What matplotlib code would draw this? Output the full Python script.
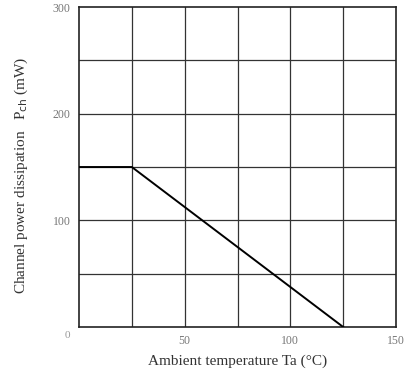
import numpy as np
import matplotlib
matplotlib.use('Agg')
import matplotlib.pyplot as plt

# derating curve: channel power dissipation vs ambient temperature
ta = [0, 25, 125]
pch = [150, 150, 0]

x_ticks = [0, 50, 100, 150]
x_labels = ['0', '50', '100', '150']
y_ticks = [100, 200, 300]
y_labels = ['100', '200', '300']

plt.rcParams['font.family'] = ['Liberation Serif', 'DejaVu Serif']

fig = plt.figure(figsize=(4.06, 3.72), dpi=100)
ax = fig.add_axes([0.1946, 0.121, 0.7808, 0.860])

ax.set_xlim(0, 150)
ax.set_ylim(0, 300)

# grid every 25 degC / 50 mW
for gx in np.arange(25, 150, 25):
    ax.axvline(gx, color='#333333', lw=0.9, zorder=1)
for gy in np.arange(50, 300, 50):
    ax.axhline(gy, color='#333333', lw=0.9, zorder=1)

ax.plot(ta, pch, color='black', lw=1.4, zorder=3)

for s in ax.spines.values():
    s.set_color('#222222')
    s.set_linewidth(1.2)

ax.set_xticks(x_ticks)
ax.set_xticklabels(x_labels)
ax.set_yticks(y_ticks)
ax.set_yticklabels(y_labels)
ax.tick_params(length=0, labelsize=8.5, colors='#777777', pad=6)
ax.text(-4, -4, '0', ha='right', va='top', fontsize=8, color='#999999')
ax.get_xticklabels()[0].set_visible(False)

ax.set_xlabel('Ambient temperature Ta (°C)', fontsize=11, color='#333333', labelpad=5)
ax.set_ylabel('Channel power dissipation   P$_{\\rm ch}$ (mW)', fontsize=11,
              color='#333333')
ax.yaxis.set_label_coords(-0.155, 0.475)

fig.savefig('out.png', dpi=100)
